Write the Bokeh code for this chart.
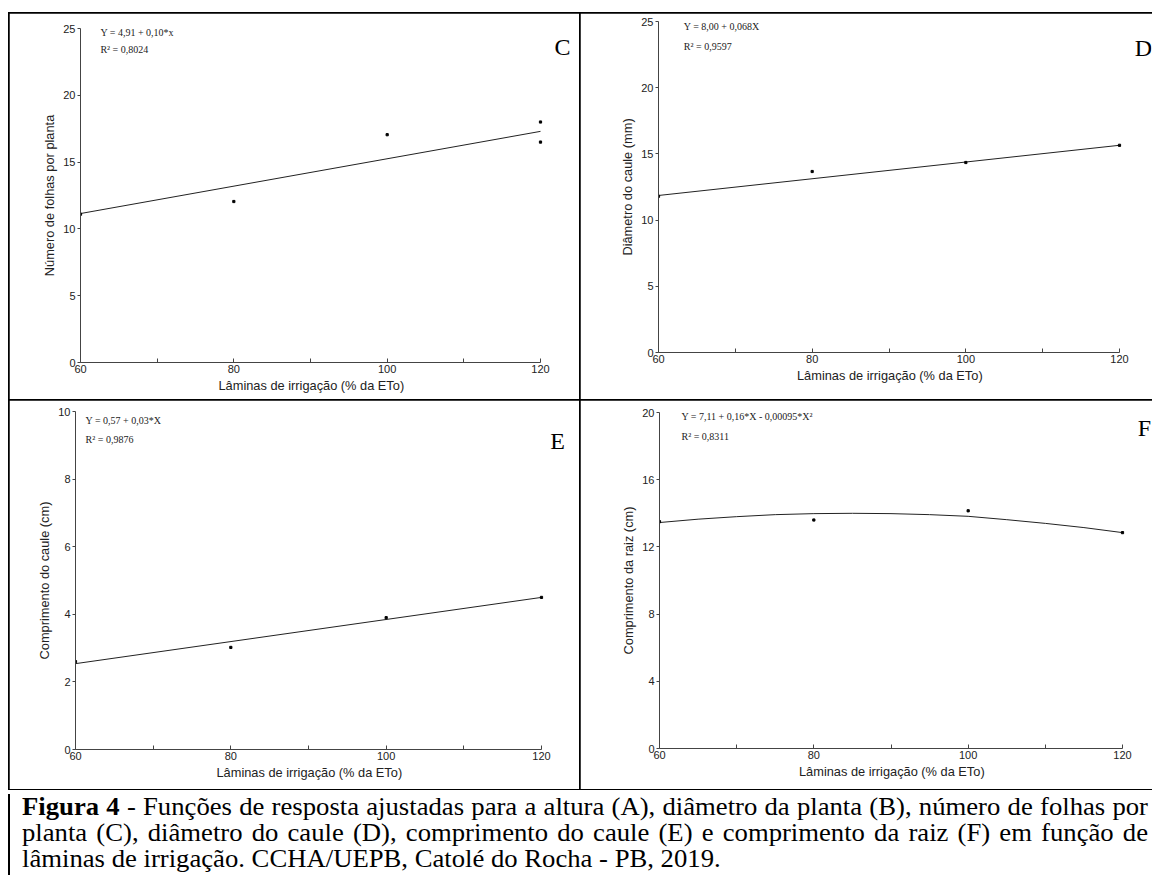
from bokeh.plotting import figure
from bokeh.models import FixedTicker, Label, Div, Range1d, Title
from bokeh.layouts import column, row
from bokeh.embed import file_html
from bokeh.resources import INLINE

# ---------------- data ----------------
x_label = "Lâminas de irrigação (% da ETo)"
x_major = [60, 80, 100, 120]
x_minor = [70, 90, 110]

# C - número de folhas
c_pts_x = [60, 80, 100, 120, 120]
c_pts_y = [11.1, 12.05, 17.05, 16.5, 18.0]
c_fit_x = [60, 120]
c_fit_y = [11.15, 17.3]
c_ylabel = "Número de folhas por planta"
c_yticks = [0, 5, 10, 15, 20, 25]
c_eq = ["Y = 4,91 + 0,10*x", "R² = 0,8024"]

# D - diâmetro do caule
d_pts_x = [60, 80, 100, 120]
d_pts_y = [11.8, 13.67, 14.35, 15.65]
d_fit_x = [60, 120]
d_fit_y = [11.86, 15.65]
d_ylabel = "Diâmetro do caule (mm)"
d_yticks = [0, 5, 10, 15, 20, 25]
d_eq = ["Y = 8,00 + 0,068X", "R² = 0,9597"]

# E - comprimento do caule
e_pts_x = [60, 80, 100, 120]
e_pts_y = [2.6, 3.02, 3.9, 4.5]
e_fit_x = [60, 120]
e_fit_y = [2.54, 4.5]
e_ylabel = "Comprimento do caule (cm)"
e_yticks = [0, 2, 4, 6, 8, 10]
e_eq = ["Y = 0,57 + 0,03*X", "R² = 0,9876"]

# F - comprimento da raiz
f_pts_x = [60, 80, 100, 120]
f_pts_y = [13.5, 13.6, 14.15, 12.85]
f_fit_x = [60, 65, 70, 75, 80, 85, 90, 95, 100, 105, 110, 115, 120]
f_fit_y = [13.45, 13.65, 13.8, 13.92, 13.98, 14.0, 13.98, 13.92, 13.82, 13.62, 13.4, 13.15, 12.85]
f_ylabel = "Comprimento da raiz (cm)"
f_yticks = [0, 4, 8, 12, 16, 20]
f_eq = ["Y = 7,11 + 0,16*X - 0,00095*X²", "R² = 0,8311"]

caption_lines = [
    ("Figura 4", " - Funções de resposta ajustadas para a altura (A), diâmetro da planta (B), número de folhas por"),
    ("", "planta (C), diâmetro do caule (D), comprimento do caule (E) e comprimento da raiz (F) em função de"),
    ("", "lâminas de irrigação. CCHA/UEPB, Catolé do Rocha - PB, 2019."),
]

SANS = "Liberation Sans"
SERIF = "Liberation Serif"
AX = "#444444"
XLABEL_HALF_W = 92


def panel(w, h, ml, axis_px, mt, mb, yticks, px, py, fx, fy, ylabel, eq, eq_pos, letter, letter_pos,
          clip_right=False):
    mr = 2
    frame_w = w - ml - mr
    x_max = 60 + 60.0 * frame_w / axis_px
    styles = {"outline": "2px solid black", "outline-offset": "-1px"}
    if clip_right:
        styles["clip-path"] = "inset(-4px 1px -4px -4px)"
    p = figure(width=w, height=h, x_range=Range1d(60, x_max), y_range=Range1d(0, yticks[-1]),
               output_backend="svg", toolbar_location=None,
               min_border_left=ml, min_border_right=mr, min_border_top=mt, min_border_bottom=mb,
               styles=styles)
    p.outline_line_color = None
    p.xgrid.visible = False
    p.ygrid.visible = False
    p.background_fill_color = "white"
    p.border_fill_color = "white"

    p.line(fx, fy, line_color="#222222", line_width=1.0)
    p.scatter(px, py, size=2.2, color="black", marker="square")

    xa = p.xaxis[0]
    xa.ticker = FixedTicker(ticks=x_major, minor_ticks=x_minor)
    xa.bounds = (60, 120)
    xa.major_tick_in = 4
    xa.major_tick_out = 0
    xa.minor_tick_in = 4
    xa.minor_tick_out = 0
    ya = p.yaxis[0]
    ya.ticker = FixedTicker(ticks=yticks, minor_ticks=[])
    ya.axis_label = ylabel
    ya.major_tick_in = 0
    ya.major_tick_out = 3
    for a in (xa, ya):
        a.axis_line_color = AX
        a.major_tick_line_color = AX
        a.minor_tick_line_color = AX
        a.major_label_text_font = SANS
        a.major_label_text_font_size = "11px"
        a.major_label_text_color = "#222222"
        a.axis_label_text_font = SANS
        a.axis_label_text_font_size = "12.8px"
        a.axis_label_text_font_style = "normal"
        a.axis_label_text_color = "#222222"
        a.major_label_standoff = 2
        a.axis_label_standoff = 3

    # x-axis title centred under the 60-120 span (frame is wider to hold the panel letter)
    t = Title(text=x_label, align="left", offset=axis_px / 2 - XLABEL_HALF_W, standoff=0,
              text_font=SANS, text_font_size="12.8px", text_font_style="normal",
              text_color="#222222")
    p.add_layout(t, "below")

    ex, ey1, ey2 = eq_pos
    p.add_layout(Label(x=ex, y=ey1, text=eq[0], text_font=SERIF, text_font_size="10px",
                       text_baseline="middle", text_color="#222222"))
    p.add_layout(Label(x=ex, y=ey2, text=eq[1], text_font=SERIF, text_font_size="10px",
                       text_baseline="middle", text_color="#222222"))
    lx, ly = letter_pos
    p.add_layout(Label(x=lx, y=ly, text=letter, text_font=SERIF, text_font_size="24px",
                       text_align="center", text_baseline="middle", text_color="black"))
    return p


pC = panel(571, 387, 71, 460, 15, 38, c_yticks, c_pts_x, c_pts_y, c_fit_x, c_fit_y, c_ylabel,
           c_eq, (62.6, 24.7, 23.4), "C", (122.87, 23.6))
pD = panel(573, 387, 78, 461, 8, 48, d_yticks, d_pts_x, d_pts_y, d_fit_x, d_fit_y, d_ylabel,
           d_eq, (63.3, 24.6, 23.1), "D", (123.1, 23.0), clip_right=True)
pE = panel(571, 389, 66, 466, 11, 40, e_yticks, e_pts_x, e_pts_y, e_fit_x, e_fit_y, e_ylabel,
           e_eq, (61.3, 9.73, 9.17), "E", (122.06, 9.14))
pF = panel(573, 389, 79, 463, 12, 41, f_yticks, f_pts_x, f_pts_y, f_fit_x, f_fit_y, f_ylabel,
           f_eq, (62.85, 19.76, 18.57), "F", (122.85, 19.05), clip_right=True)

SCALE = 1.067
line_w = 1126 / SCALE
line_divs = []
for i, (bold, rest) in enumerate(caption_lines):
    last = "justify" if i < 2 else "left"
    b = f"<b>{bold}</b>" if bold else ""
    line_divs.append(
        f'<div style="white-space:nowrap;text-align:justify;text-align-last:{last};width:{line_w:.1f}px;'
        f'transform:scaleX({SCALE});transform-origin:0 0;">{b}{rest}</div>'
    )
cap_html = (
    '<div style="border-left:2px solid black;height:86px;box-sizing:border-box;padding:0 0 0 12px;'
    f"font-family:'{SERIF}';font-size:25px;line-height:26px;color:black;overflow:hidden;width:1144px;\">"
    + "".join(line_divs) + "</div>"
)
cap = Div(text=cap_html, width=1144, height=86, styles={"overflow": "hidden", "margin-left": "-1px"})

layout = column(row(column(pC), column(pD)), row(column(pE), column(pF)), cap, margin=(13, 0, 0, 9))

open("out.html", "w").write(file_html(layout, INLINE))
